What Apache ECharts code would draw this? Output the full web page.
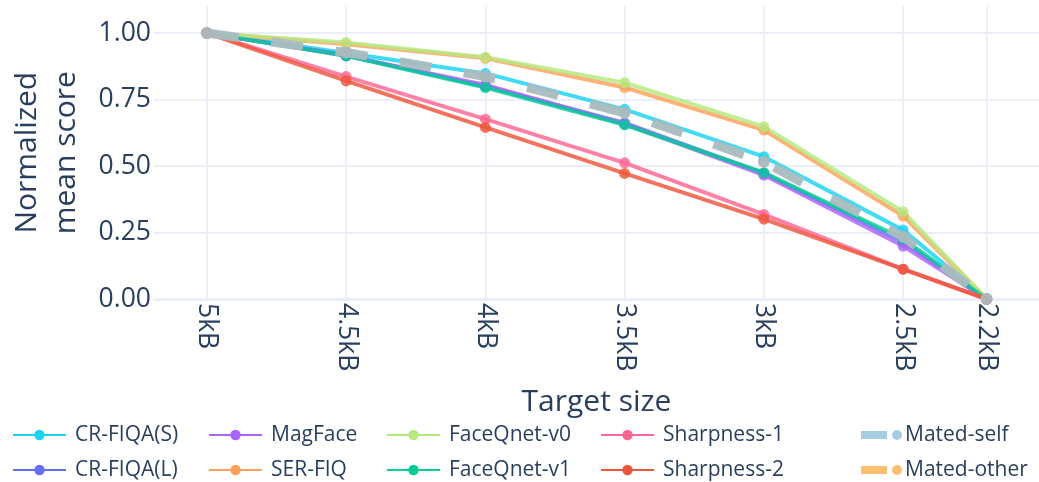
<!DOCTYPE html>
<html>
<head>
<meta charset="utf-8">
<script src="https://cdn.jsdelivr.net/npm/echarts@6/dist/echarts.min.js"></script>
<style>
  html, body { margin: 0; padding: 0; background: #fff; }
  #chart { width: 1039px; height: 482px; }
</style>
</head>
<body>
<div id="chart"></div>
<script>
// Target file sizes (kB) and their tick labels
const sizes = [5, 4.5, 4, 3.5, 3, 2.5, 2.2];
const sizeLabels = ['5kB', '4.5kB', '4kB', '3.5kB', '3kB', '2.5kB', '2.2kB'];
const yTicks = [0, 0.25, 0.5, 0.75, 1];

// Normalized mean quality score per method
const crFiqaS    = [1, 0.925, 0.848, 0.713, 0.535, 0.259, 0];
const crFiqaL    = [1, 0.916, 0.800, 0.662, 0.472, 0.215, 0];
const magFace    = [1, 0.914, 0.805, 0.658, 0.466, 0.199, 0];
const serFiq     = [1, 0.958, 0.905, 0.795, 0.635, 0.312, 0];
const faceQnetV0 = [1, 0.964, 0.909, 0.813, 0.648, 0.328, 0];
const faceQnetV1 = [1, 0.914, 0.795, 0.655, 0.475, 0.226, 0];
const sharpness1 = [1, 0.836, 0.676, 0.512, 0.318, 0.112, 0];
const sharpness2 = [1, 0.820, 0.645, 0.472, 0.300, 0.112, 0];
const averageAll = [1, 0.927, 0.836, 0.700, 0.516, 0.234, 0];

const methods = [
  { name: 'CR-FIQA(S)',  color: '#19d3f3', values: crFiqaS },
  { name: 'CR-FIQA(L)',  color: '#636efa', values: crFiqaL },
  { name: 'MagFace',     color: '#ab63fa', values: magFace },
  { name: 'SER-FIQ',     color: '#ffa15a', values: serFiq },
  { name: 'FaceQnet-v0', color: '#b6e880', values: faceQnetV0 },
  { name: 'FaceQnet-v1', color: '#00cc96', values: faceQnetV1 },
  { name: 'Sharpness-1', color: '#ff6692', values: sharpness1 },
  { name: 'Sharpness-2', color: '#ef553b', values: sharpness2 }
];

const FONT = '"Open Sans", "Noto Sans", sans-serif';
const INK = '#2a3f5f';
const GRID = '#ebf0f8';

const pairs = vals => vals.map((v, i) => [sizes[i], v]);

const series = methods.map(m => ({
  name: m.name,
  type: 'line',
  data: pairs(m.values),
  symbol: 'circle',
  symbolSize: 11,
  lineStyle: { color: m.color, width: 4, opacity: 0.82 },
  itemStyle: { color: m.color, opacity: 0.82 },
  emphasis: { disabled: true },
  animation: false,
  z: 2
}));

series.push({
  name: 'Average',
  type: 'line',
  data: pairs(averageAll),
  symbol: 'circle',
  symbolSize: 12,
  lineStyle: { color: 'rgba(170,188,192,0.95)', width: 9, type: [32, 33], cap: 'butt' },
  itemStyle: { color: 'rgba(172,184,188,0.95)' },
  emphasis: { disabled: true },
  animation: false,
  z: 3
});

// Legend-only entries for the pairing types
const pairTypes = [
  { name: 'Mated-self',  color: '#a6cee3' },
  { name: 'Mated-other', color: '#fdbf6f' }
];
pairTypes.forEach(p => series.push({
  name: p.name, type: 'line', data: [],
  itemStyle: { color: p.color }, lineStyle: { color: p.color }
}));

const pairIcon = 'path://M0,1H26V9H0Z M31,5A5,5 0 1,1 41,5A5,5 0 1,1 31,5Z';

const legendBase = {
  orient: 'vertical',
  top: 423,
  padding: 0,
  itemGap: 11,
  itemWidth: 53,
  itemHeight: 13,
  textStyle: { fontFamily: FONT, fontSize: 21, color: INK, lineHeight: 24, padding: [0, 0, 0, 4] },
  itemStyle: { opacity: 1 },
  lineStyle: { width: 2, opacity: 1 },
  selectedMode: false
};
const columns = [
  { left: 12,  names: ['CR-FIQA(S)', 'CR-FIQA(L)'] },
  { left: 208, names: ['MagFace', 'SER-FIQ'] },
  { left: 386, names: ['FaceQnet-v0', 'FaceQnet-v1'] },
  { left: 600, names: ['Sharpness-1', 'Sharpness-2'] }
];
const legends = columns.map(c => Object.assign({}, legendBase, { left: c.left, data: c.names }));
legends.push(Object.assign({}, legendBase, {
  left: 861,
  itemWidth: 41,
  itemHeight: 10,
  textStyle: Object.assign({}, legendBase.textStyle, { padding: [0, 0, 0, -2] }),
  data: pairTypes.map(p => ({ name: p.name, icon: pairIcon }))
}));

const option = {
  backgroundColor: '#fff',
  animation: false,
  grid: { left: 148, right: 0, top: 6.4, bottom: 183, containLabel: false },
  legend: legends,
  xAxis: {
    type: 'value',
    inverse: true,
    min: 2.012,
    max: 5.19,
    name: 'Target size',
    nameLocation: 'middle',
    nameGap: 88,
    nameTextStyle: { fontFamily: FONT, fontSize: 30, color: INK },
    axisLine: { show: true, lineStyle: { color: GRID, width: 3 } },
    axisTick: { show: false, customValues: sizes },
    splitLine: { show: true, lineStyle: { color: GRID, width: 2 } },
    axisLabel: {
      customValues: sizes,
      rotate: -90,
      margin: 4,
      fontFamily: FONT,
      fontSize: 26.5,
      color: INK,
      formatter: v => sizeLabels[sizes.indexOf(v)] ?? ''
    }
  },
  yAxis: {
    type: 'value',
    min: 0,
    max: 1.1,
    name: 'Normalized\nmean score',
    nameLocation: 'middle',
    nameRotate: 90,
    nameGap: 68,
    nameTextStyle: { fontFamily: FONT, fontSize: 30, color: INK, lineHeight: 39 },
    axisLine: { show: false },
    axisTick: { show: false, customValues: yTicks },
    splitLine: { show: true, lineStyle: { color: GRID, width: 2 } },
    axisLabel: {
      customValues: yTicks,
      margin: 3,
      fontFamily: FONT,
      fontSize: 26.5,
      color: INK,
      formatter: v => v.toFixed(2)
    }
  },
  series: series
};

const chart = echarts.init(document.getElementById('chart'), null, { renderer: 'canvas' });
chart.setOption(option);
</script>
</body>
</html>
